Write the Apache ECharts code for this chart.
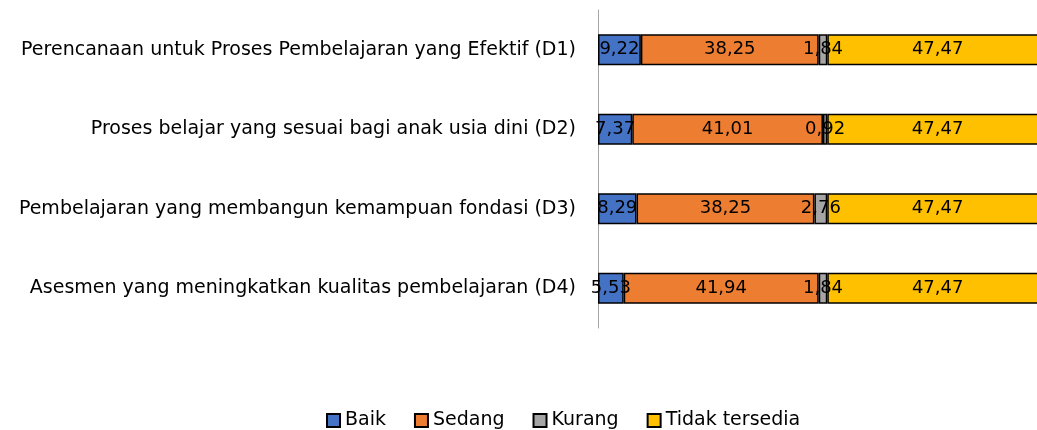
<!DOCTYPE html>
<html>
<head>
<meta charset="utf-8">
<script src="https://cdn.jsdelivr.net/npm/echarts@6/dist/echarts.min.js"></script>
<style>
  html, body { margin: 0; padding: 0; background: #fff; }
  #chart { width: 1037px; height: 430px; }
</style>
</head>
<body>
<div id="chart"></div>
<script>
var categories = [
    'Perencanaan untuk Proses Pembelajaran yang Efektif (D1)',
    'Proses belajar yang sesuai bagi anak usia dini (D2)',
    'Pembelajaran yang membangun kemampuan fondasi (D3)',
    'Asesmen yang meningkatkan kualitas pembelajaran (D4)'
];
var baik = [9.22, 7.37, 8.29, 5.53];
var sedang = [38.25, 41.01, 38.25, 41.94];
var kurang = [1.84, 0.92, 2.76, 1.84];
var tidakTersedia = [47.47, 47.47, 47.47, 47.47];

var seriesNames = ['Baik', 'Sedang', 'Kurang', 'Tidak tersedia'];
var seriesColors = ['#4472C4', '#ED7D31', '#A5A5A5', '#FFC000'];
var seriesData = [baik, sedang, kurang, tidakTersedia];

var FONT = 'DejaVu Sans';

var myChart = echarts.init(document.getElementById('chart'));

var series = seriesData.map(function (d, i) {
    return {
        name: seriesNames[i],
        type: 'bar',
        stack: 'total',
        barWidth: 31,
        data: d,
        itemStyle: { color: seriesColors[i], borderColor: '#000', borderWidth: 1.5 },
        label: {
            show: true,
            position: 'inside',
            color: '#000',
            fontFamily: FONT,
            fontSize: 18,
            formatter: function (p) { return p.value.toFixed(2).replace('.', ','); }
        }
    };
});

var option = {
    animation: false,
    // plot runs past the right edge, as in the cropped original
    grid: { left: 598, width: 465, top: 10, height: 318, outerBoundsMode: 'none', containLabel: false },
    xAxis: {
        type: 'value',
        min: 0,
        max: 100,
        show: false
    },
    yAxis: {
        type: 'category',
        inverse: true,
        data: categories,
        axisLine: { show: true, lineStyle: { color: '#A6A6A6', width: 1 } },
        axisTick: { show: false },
        axisLabel: { color: '#000', fontFamily: FONT, fontSize: 19, margin: 22 }
    },
    legend: {
        top: 406,
        left: 321,
        itemWidth: 13,
        itemHeight: 13,
        itemGap: 28,
        icon: 'rect',
        textStyle: { color: '#000', fontFamily: FONT, fontSize: 19 },
        data: seriesNames
    },
    series: series
};

myChart.setOption(option);
</script>
</body>
</html>
